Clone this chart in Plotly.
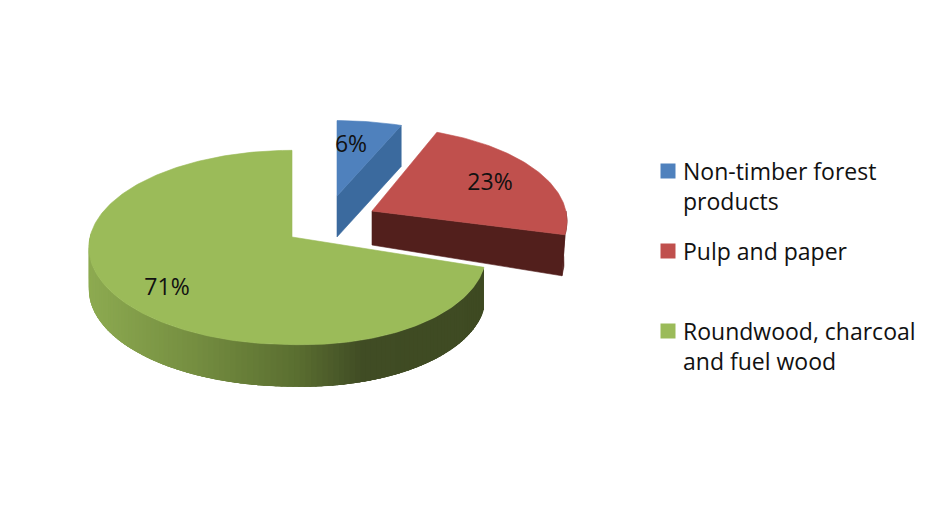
import math
import plotly.graph_objects as go

categories = ["Non-timber forest<br>products", "Pulp and paper", "Roundwood, charcoal<br>and fuel wood"]
values = [6, 23, 71]
labels = ["6%", "23%", "71%"]
top_colors = ["#4F81BD", "#C0504D", "#9BBB59"]
side_colors = ["#3B6A9E", "#521F1C", "#4A5A28"]

# Page body has an 8 px margin, so the axes run from 8 to the window edge
PAGE_W, PAGE_H, BODY = 934, 527, 8
CX, CY, RX, RY, K = 292, 237, 202, 96, 0.1077
geom = [
    dict(dx=45, dy=-41, sx=0.95, sxr=0.95, sy=0.87, skew=0, d0=41, d1=41, bx=0, lx=351, ly=146),
    dict(dx=80, dy=-26, sx=0.96, sxr=0.96, sy=0.97, skew=0, d0=34, d1=41, bx=-3, lx=490, ly=184),
    dict(dx=0, dy=0, sx=1.0, sxr=0.955, sy=1.0, skew=6, d0=42, d1=42, bx=0, lx=167, ly=289),
]
legend_x, legend_y = [668, 668, 668], [171, 251, 331]
legend_text_x = 682


def point(deg, g):
    t = math.radians(deg)
    X, Y = math.sin(t), -math.cos(t)
    w = 1 - K * Y
    sx = g["sxr"] if X > 0 else g["sx"]
    skew = g["skew"] * X if X > 0 else 0
    return (CX + g["dx"] + sx * RX * X / w, CY + g["dy"] + g["sy"] * RY * Y / w + skew)


def arc(a, b, g, step=1.0):
    n = max(2, int(abs(b - a) / step))
    return [point(a + (b - a) * i / n, g) for i in range(n + 1)]


def mix(c1, c2, f):
    return "rgb(%d,%d,%d)" % tuple(round(c1[i] + (c2[i] - c1[i]) * f) for i in range(3))


def poly(fig, pts, color, lw=0.6):
    fig.add_trace(go.Scatter(
        x=[p[0] for p in pts] + [pts[0][0]], y=[p[1] for p in pts] + [pts[0][1]],
        mode="lines", fill="toself", fillcolor=color, line=dict(color=color, width=lw),
        hoverinfo="skip", showlegend=False))


def rim_color(x):
    stops = [(80, (143, 173, 82)), (200, (116, 141, 64)), (300, (90, 110, 48)),
             (365, (64, 76, 36)), (500, (62, 74, 34))]
    for (x0, c0), (x1, c1) in zip(stops, stops[1:]):
        if x <= x1:
            return mix(c0, c1, max(0, (x - x0) / (x1 - x0)))
    return mix(stops[-1][1], stops[-1][1], 0)


fig = go.Figure()
total = sum(values)
start = 0.0
spans = []
for v in values:
    spans.append((start, start + 360.0 * v / total))
    start = spans[-1][1]

for i, (a, b) in enumerate(spans):
    g = geom[i]
    apex = (CX + g["dx"], CY + g["dy"])
    end = point(b, g)
    if i < 2:
        poly(fig, [apex, end, (end[0] + g["bx"], end[1] + g["d1"]), (apex[0], apex[1] + g["d0"])], side_colors[i])
        if i == 1:
            low = arc(90, b, g)
            poly(fig, low + [(p[0] + g["bx"], p[1] + g["d1"]) for p in reversed(low)], side_colors[i])
    else:
        # shaded wall: strips overlap the next one, drawn without outlines, so no seams show
        th = a
        while th < 272:
            strip = arc(th, min(th + 5, 272), g, 0.5)
            poly(fig, strip + [(p[0], p[1] + g["d1"]) for p in reversed(strip)],
                 rim_color(strip[0][0]), 0)
            th += 1.5
    poly(fig, [apex] + arc(a, b, g), top_colors[i])

fig.add_trace(go.Scatter(
    x=[g["lx"] for g in geom], y=[g["ly"] for g in geom], text=labels, mode="text",
    textfont=dict(family="Open Sans", size=23, color="#111111"),
    hoverinfo="skip", showlegend=False))

fig.add_trace(go.Scatter(
    x=legend_x, y=legend_y, mode="markers", hoverinfo="skip", showlegend=False,
    marker=dict(symbol="square", size=15, color=top_colors)))

for name, ly in zip(categories, legend_y):
    fig.add_annotation(x=legend_text_x, y=ly - 17.5, text=name, xref="x", yref="y",
                       xanchor="left", yanchor="top", align="left", showarrow=False,
                       borderpad=0, font=dict(family="Open Sans", size=23, color="#111111"))

fig.update_layout(
    width=PAGE_W - BODY, height=PAGE_H - BODY, margin=dict(l=0, r=0, t=0, b=0),
    paper_bgcolor="white", plot_bgcolor="white",
    xaxis=dict(range=[BODY, PAGE_W], visible=False, fixedrange=True),
    yaxis=dict(range=[PAGE_H, BODY], visible=False, fixedrange=True),
    showlegend=False,
)
fig.write_html("out.html")
